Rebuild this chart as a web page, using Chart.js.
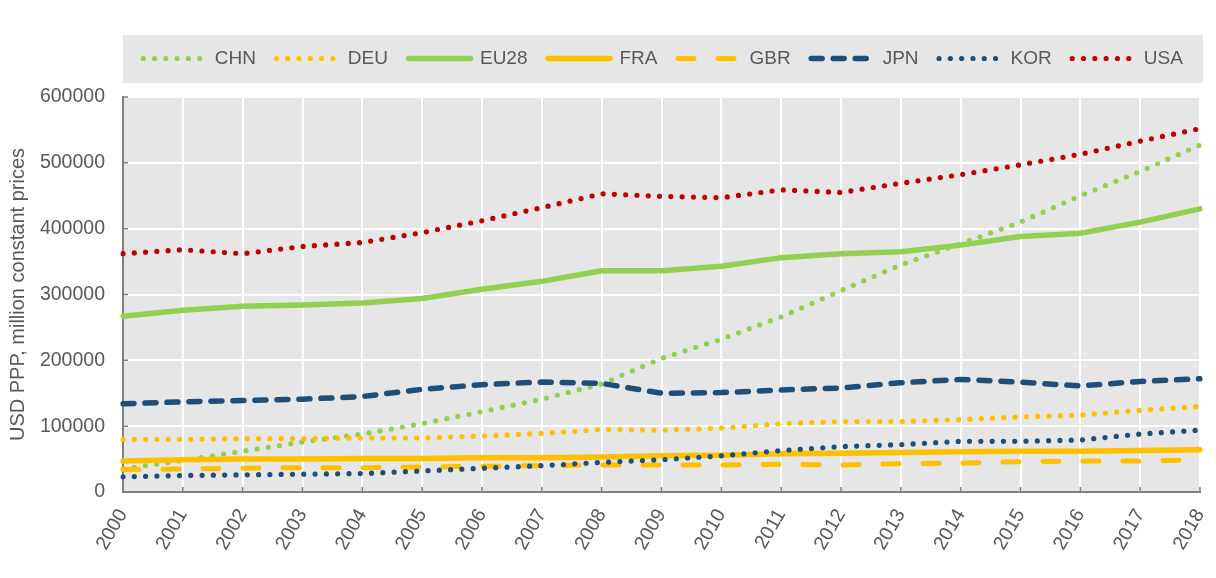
<!DOCTYPE html>
<html>
<head>
<meta charset="utf-8">
<script src="https://cdn.jsdelivr.net/npm/chart.js@4/dist/chart.umd.min.js"></script>
<style>
  body { margin: 0; background: #fff; }
  canvas { display: block; }
</style>
</head>
<body>
<canvas id="grafica" width="1216" height="578"></canvas>
<script>
/* Datos (millones USD PPP, precios constantes) */
const years = ['2000','2001','2002','2003','2004','2005','2006','2007','2008','2009',
               '2010','2011','2012','2013','2014','2015','2016','2017','2018'];
const seriesNames = ['CHN', 'DEU', 'EU28', 'FRA', 'GBR', 'JPN', 'KOR', 'USA'];
const chn  = [35000, 48000, 62000, 76000, 88000, 104000, 122000, 141000, 164000, 203000, 232000, 266000, 306000, 345000, 377000, 410000, 450000, 487000, 527000];
const deu  = [80000, 80000, 81000, 81000, 82000, 82000, 85000, 89000, 95000, 94000, 97000, 104000, 107000, 107000, 110000, 114000, 117000, 124000, 130000];
const eu28 = [267000, 276000, 282000, 284000, 287000, 294000, 308000, 320000, 336000, 336000, 343000, 356000, 362000, 365000, 375000, 388000, 393000, 410000, 430000];
const fra  = [47000, 49000, 50000, 50000, 51000, 51000, 52000, 52000, 53000, 55000, 56000, 58000, 59000, 60000, 61000, 62000, 62000, 63000, 64000];
const gbr  = [34000, 35000, 36000, 37000, 37000, 38000, 39000, 40000, 41000, 41000, 41000, 42000, 41000, 43000, 44000, 46000, 47000, 47000, 49000];
const jpn  = [134000, 137000, 139000, 141000, 145000, 156000, 163000, 167000, 165000, 150000, 151000, 155000, 158000, 166000, 171000, 167000, 161000, 168000, 172000];
const kor  = [23000, 25000, 26000, 27000, 28000, 32000, 36000, 40000, 45000, 49000, 55000, 63000, 69000, 72000, 77000, 77000, 79000, 88000, 94000];
const usa  = [362000, 368000, 362000, 373000, 379000, 394000, 412000, 432000, 453000, 449000, 447000, 459000, 455000, 469000, 482000, 497000, 513000, 533000, 552000];
const yTicks = [0, 100000, 200000, 300000, 400000, 500000, 600000];

/* Estilos */
const verde = '#92d050';
const amarillo = '#ffc000';
const azul = '#1f4e79';
const rojo = '#c00000';
const gris = '#595959';
const fuente = 'Liberation Sans, Arial, sans-serif';
const puntos = [0, 11.3];

function serie(nombre, datos, color, ancho, dash) {
  return {
    label: nombre,
    data: datos,
    borderColor: color,
    backgroundColor: color,
    borderWidth: ancho,
    borderDash: dash,
    borderCapStyle: 'round',
    borderJoinStyle: 'round',
    pointRadius: 0,
    tension: 0,
    fill: false
  };
}

const datasets = [
  serie(seriesNames[0], chn, verde, 5.2, puntos),
  serie(seriesNames[1], deu, amarillo, 5.2, puntos),
  serie(seriesNames[2], eu28, verde, 5.5, []),
  serie(seriesNames[3], fra, amarillo, 5.5, []),
  serie(seriesNames[4], gbr, amarillo, 5, [16, 24]),
  serie(seriesNames[5], jpn, azul, 5.5, [11, 11]),
  serie(seriesNames[6], kor, azul, 5.2, puntos),
  serie(seriesNames[7], usa, rojo, 5.2, puntos)
];
// las ultimas series se dibujan encima
datasets.forEach((d, i) => { d.order = datasets.length - i; });

// fondo gris del area y de la leyenda, leyenda en una fila centrada en su caja
const fondo = {
  id: 'fondo',
  beforeDraw(chart) {
    const c = chart.ctx;
    const a = chart.chartArea;
    c.save();
    c.fillStyle = '#e6e6e6';
    c.fillRect(a.left, 35, a.right - a.left + 3, 48);
    c.fillRect(a.left, a.top, a.right - a.left, a.bottom - a.top);
    c.restore();
    const lg = chart.legend;
    lg.maxWidth = 1400;
    lg.fit();
    lg.left = a.left - 40;
    lg.right = a.right + 43;
    lg.top = 28.5;
    lg.bottom = lg.top + lg.height;
  },
  beforeDatasetsDraw(chart) {
    const c = chart.ctx;
    const a = chart.chartArea;
    const sx = chart.scales.x;
    const sy = chart.scales.y;
    c.save();
    c.strokeStyle = '#808080';
    c.lineWidth = 1.5;
    c.beginPath();
    for (let i = 0; i < sy.ticks.length; i++) {
      const y = sy.getPixelForTick(i);
      c.moveTo(a.left, y);
      c.lineTo(a.left + 5, y);
    }
    for (let i = 0; i < sx.ticks.length; i++) {
      const x = sx.getPixelForTick(i);
      c.moveTo(x, a.bottom);
      c.lineTo(x, a.bottom - 5);
    }
    c.stroke();
    c.restore();
  }
};

new Chart(document.getElementById('grafica'), {
  type: 'line',
  data: {
    labels: years,
    datasets: datasets
  },
  options: {
    responsive: false,
    animation: false,
    layout: {
      padding: { top: 47.5, left: 0, right: 16, bottom: 0 }
    },
    plugins: {
      legend: {
        position: 'top',
        labels: {
          usePointStyle: true,
          pointStyle: 'line',
          pointStyleWidth: 62,
          boxWidth: 62,
          padding: 20.5,
          color: gris,
          font: { family: fuente, size: 19 },
          generateLabels(chart) {
            return chart.data.datasets.map((d, i) => ({
              text: d.label,
              datasetIndex: i,
              fillStyle: d.borderColor,
              strokeStyle: d.borderColor,
              lineWidth: d.borderWidth,
              lineDash: d.borderDash,
              lineCap: 'round',
              lineJoin: 'round',
              pointStyle: 'line',
              fontColor: gris,
              hidden: false
            }));
          }
        }
      },
      tooltip: { enabled: false }
    },
    scales: {
      x: {
        offset: false,
        grid: { color: '#ffffff', lineWidth: 2, drawTicks: false },
        border: { color: '#808080', width: 2 },
        ticks: {
          color: gris,
          minRotation: 60,
          maxRotation: 60,
          autoSkip: false,
          padding: 13,
          font: { family: fuente, size: 19.5 }
        },
        afterFit(scale) {
          scale.height = 86;
          scale.paddingRight = 0;
          scale.paddingLeft = 0;
        }
      },
      y: {
        min: 0,
        max: 600000,
        afterBuildTicks(scale) { scale.ticks = yTicks.map(v => ({ value: v })); },
        grid: { color: '#ffffff', lineWidth: 2, drawTicks: false },
        border: { color: '#808080', width: 2 },
        ticks: {
          color: gris,
          padding: 18,
          font: { family: fuente, size: 19.5 },
          callback: v => String(v)
        },
        title: {
          display: true,
          text: 'USD PPP, million constant prices',
          color: gris,
          padding: { top: 6, bottom: 0 },
          font: { family: fuente, size: 20 }
        },
        afterFit(scale) { scale.width = 123; }
      }
    }
  },
  plugins: [fondo]
});
</script>
</body>
</html>
